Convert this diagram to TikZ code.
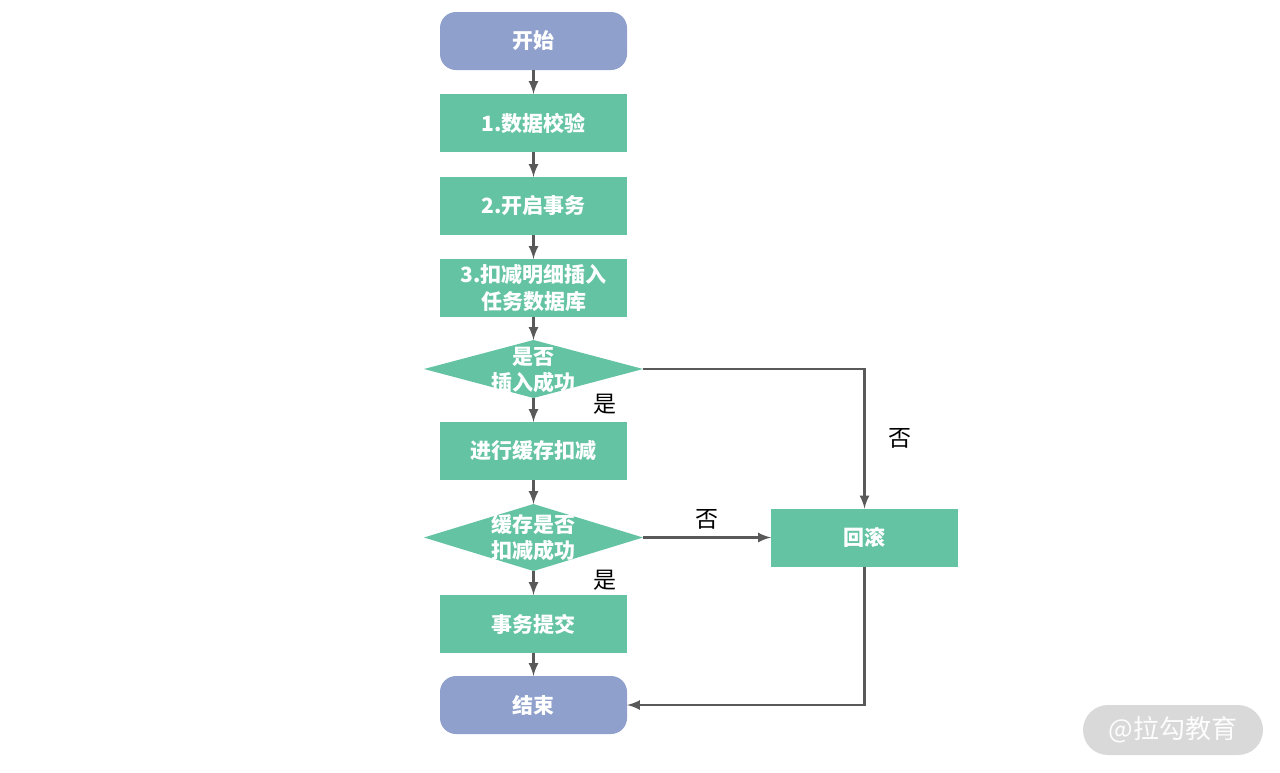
\documentclass[tikz,border=0pt]{standalone}
\usepackage{fontspec}
\setmainfont{Noto Sans CJK SC}
\usepackage{tikz}
\usetikzlibrary{shapes.geometric}
\usetikzlibrary{arrows}
\usetikzlibrary{positioning}
\usepackage{xcolor}
\definecolor{stepgreen}{HTML}{64C3A3}
\definecolor{termblue}{HTML}{8EA0CB}
\definecolor{linegray}{HTML}{595959}
\definecolor{markgray}{HTML}{D9D9D9}
\newcommand{\dtext}[1]{\makebox[0pt]{\smash{\raisebox{-0.4em}{\begin{tabular}{@{}c@{}}#1\end{tabular}}}}}

\begin{document}
\begin{tikzpicture}[x=0.5pt,y=-0.5pt,font=\fontsize{11.5}{13}\selectfont,
  box/.style={rectangle,fill=stepgreen,text=white,font=\fontsize{10.5}{13.5}\selectfont\bfseries,minimum width=93.5pt,minimum height=29pt,inner sep=0pt,outer sep=0pt,align=center},
  term/.style={box,rounded corners=8pt,fill=termblue},
  decision/.style={diamond,fill=stepgreen,text=white,font=\fontsize{10.5}{13}\selectfont\bfseries,minimum width=109.5pt,minimum height=29pt,inner sep=0pt,outer sep=0pt},
  flow/.style={draw=linegray,line width=1.2pt,->,>=latex}]
\useasboundingbox (0,0) rectangle (1280,772);

\node [term] (start) at (533.5,41) {开始};
\node [box,below=12pt,at=(start.south)] (check) {1.数据校验};
\node [box,below=12.5pt,at=(check.south)] (txn) {2.开启事务};
\node [box,below=12pt,at=(txn.south)] (insert) {3.扣减明细插入\\任务数据库};
\node [decision,below=11.5pt,at=(insert.south)] (d1) {\dtext{是否\\插入成功}};
\node [box,below=12pt,at=(d1.south)] (cache) {进行缓存扣减};
\node [decision,minimum height=33.5pt,below=12pt,at=(cache.south)] (d2) {\dtext{缓存是否\\扣减成功}};
\node [box,below=12pt,at=(d2.south)] (commit) {事务提交};
\node [term,below=11.5pt,at=(commit.south)] (end) {结束};
\node [box,right=64pt,at=(d2.east)] (rollback) {回滚};
\node [rounded corners=12.5pt,fill=markgray,text=white!95!markgray,font=\fontsize{13}{15}\selectfont,minimum width=90pt,minimum height=25pt] (mark) at (1173,730) {@拉勾教育};

\draw [flow] (start) -- (check);
\draw [flow] (check) -- (txn);
\draw [flow] (txn) -- (insert);
\draw [flow] (insert) -- (d1);
\draw [flow] (d1) -- node [pos=0.25,right=26pt] {是} (cache);
\draw [flow] (d1) -| node [pos=0.75,right=8pt] {否} (rollback);
\draw [flow] (cache) -- (d2);
\draw [flow] (d2) -- node [above] {否} (rollback);
\draw [flow] (d2) -- node [pos=0.375,right=26pt] {是} (commit);
\draw [flow] (commit) -- (end);
\draw [flow] (rollback) |- (end);
\end{tikzpicture}
\end{document}
